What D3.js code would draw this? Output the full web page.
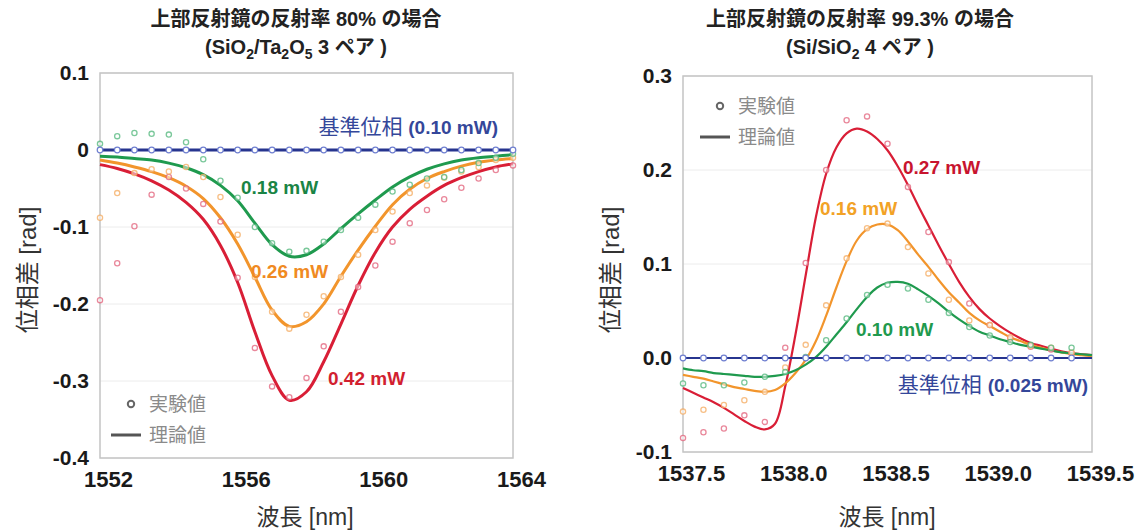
<!DOCTYPE html>
<html>
<head>
<meta charset="utf-8">
<script src="https://cdn.jsdelivr.net/npm/d3@7"></script>
<style>
body { margin: 0; background: #fff; }
text { font-family: "Liberation Sans", Arial, "Noto Sans CJK JP", sans-serif; }
</style>
</head>
<body>
<svg id="chart" width="1145" height="531"></svg>
<script>
// ---- left panel data (SiO2/Ta2O5 3 pairs) ----
var leftX = [1552, 1552.5, 1553, 1553.5, 1554, 1554.5, 1555, 1555.5, 1556, 1556.5, 1557, 1557.5,
    1558, 1558.5, 1559, 1559.5, 1560, 1560.5, 1561, 1561.5, 1562, 1562.5, 1563, 1563.5, 1564];
var leftTheoryGreen = [-0.008, -0.009, -0.011, -0.013, -0.017, -0.023, -0.032, -0.046, -0.066, -0.095, -0.123, -0.138,
    -0.136, -0.122, -0.102, -0.083, -0.065, -0.048, -0.035, -0.025, -0.018, -0.013, -0.010, -0.008, -0.006];
var leftTheoryOrange = [-0.013, -0.017, -0.022, -0.028, -0.036, -0.047, -0.063, -0.088, -0.122, -0.165, -0.208, -0.229,
    -0.223, -0.200, -0.164, -0.130, -0.099, -0.071, -0.051, -0.037, -0.028, -0.021, -0.016, -0.013, -0.011];
var leftTheoryRed = [-0.019, -0.024, -0.031, -0.040, -0.052, -0.068, -0.090, -0.124, -0.172, -0.236, -0.293, -0.325,
    -0.314, -0.275, -0.226, -0.176, -0.133, -0.100, -0.077, -0.060, -0.046, -0.036, -0.028, -0.022, -0.018];
var leftExpGreen = [0.008, 0.018, 0.022, 0.021, 0.020, 0.010, -0.012, -0.040, -0.062, -0.100, -0.121, -0.132,
    -0.131, -0.119, -0.104, -0.088, -0.071, -0.054, -0.045, -0.037, -0.035, -0.026, -0.017, -0.010, -0.005];
var leftExpOrange = [-0.088, -0.056, -0.030, -0.025, -0.028, -0.022, -0.035, -0.061, -0.110, -0.165, -0.210, -0.232,
    -0.214, -0.190, -0.165, -0.136, -0.104, -0.080, -0.056, -0.046, -0.036, -0.028, -0.022, -0.013, -0.010];
var leftExpRed = [-0.195, -0.147, -0.099, -0.058, -0.035, -0.050, -0.070, -0.093, -0.166, -0.257, -0.307, -0.321,
    -0.296, -0.255, -0.210, -0.178, -0.150, -0.119, -0.095, -0.078, -0.064, -0.049, -0.037, -0.026, -0.020];
var leftYTicks = [-0.4, -0.3, -0.2, -0.1, 0, 0.1];
var leftXTicks = [1552, 1556, 1560, 1564];

// ---- right panel data (Si/SiO2 4 pairs) ----
var rightTheoryX = [1537.5, 1537.55, 1537.6, 1537.65, 1537.7, 1537.75, 1537.8, 1537.85, 1537.9, 1537.95,
    1538.0, 1538.05, 1538.1, 1538.15, 1538.2, 1538.25, 1538.3, 1538.35, 1538.4, 1538.45,
    1538.5, 1538.55, 1538.6, 1538.65, 1538.7, 1538.75, 1538.8, 1538.85, 1538.9, 1538.95,
    1539.0, 1539.05, 1539.1, 1539.15, 1539.2, 1539.25, 1539.3, 1539.35, 1539.4, 1539.45, 1539.5];
var rightTheoryRed = [-0.032, -0.037, -0.042, -0.047, -0.053, -0.060, -0.067, -0.073, -0.076, -0.070,
    -0.030, 0.025, 0.088, 0.150, 0.196, 0.224, 0.239, 0.244, 0.241, 0.233,
    0.221, 0.204, 0.184, 0.162, 0.141, 0.120, 0.100, 0.081, 0.065, 0.052,
    0.042, 0.034, 0.027, 0.021, 0.016, 0.013, 0.010, 0.007, 0.005, 0.004, 0.003];
var rightTheoryOrange = [-0.018, -0.020, -0.022, -0.025, -0.028, -0.031, -0.033, -0.035, -0.036, -0.034,
    -0.027, -0.016, -0.002, 0.018, 0.045, 0.075, 0.103, 0.125, 0.137, 0.142,
    0.142, 0.136, 0.124, 0.110, 0.097, 0.083, 0.070, 0.059, 0.048, 0.040,
    0.034, 0.028, 0.022, 0.018, 0.014, 0.011, 0.008, 0.006, 0.004, 0.003, 0.002];
var rightTheoryGreen = [-0.011, -0.013, -0.014, -0.016, -0.017, -0.018, -0.019, -0.020, -0.020, -0.019,
    -0.017, -0.013, -0.007, 0.001, 0.012, 0.025, 0.038, 0.052, 0.065, 0.075,
    0.080, 0.081, 0.079, 0.073, 0.066, 0.058, 0.049, 0.041, 0.034, 0.028,
    0.024, 0.020, 0.017, 0.014, 0.012, 0.010, 0.008, 0.006, 0.005, 0.004, 0.003];
var rightExpX = [1537.5, 1537.6, 1537.7, 1537.8, 1537.9, 1538.0, 1538.1, 1538.2, 1538.3, 1538.4,
    1538.5, 1538.6, 1538.7, 1538.8, 1538.9, 1539.0, 1539.1, 1539.2, 1539.3, 1539.4];
var rightExpRed = [-0.085, -0.079, -0.075, -0.061, -0.068, 0.011, 0.101, 0.200, 0.253, 0.257,
    0.228, 0.182, 0.134, 0.102, 0.058, 0.035, 0.021, 0.012, 0.009, 0.005];
var rightExpOrange = [-0.057, -0.055, -0.050, -0.045, -0.036, -0.010, 0.014, 0.056, 0.106, 0.138,
    0.143, 0.118, 0.090, 0.062, 0.040, 0.035, 0.022, 0.013, 0.011, 0.006];
var rightExpGreen = [-0.027, -0.029, -0.029, -0.026, -0.020, -0.015, 0.001, 0.019, 0.042, 0.067,
    0.078, 0.074, 0.062, 0.048, 0.033, 0.024, 0.017, 0.014, 0.011, 0.011];
var rightYTicks = [-0.1, 0, 0.1, 0.2, 0.3];
var rightXTicks = [1537.5, 1538.0, 1538.5, 1539.0, 1539.5];

var colors = {
    blue: "#27358f", blueMark: "#6f7fd0",
    green: "#1f9a4e", greenMark: "#4fb57a",
    orange: "#f2952c", orangeMark: "#f4aa5e",
    red: "#d91e36", redMark: "#e2607a"
};

var svg = d3.select("#chart");

function drawPanel(p) {
    var g = svg.append("g");
    var x = d3.scaleLinear().domain(p.xDomain).range(p.xRange);
    var y = d3.scaleLinear().domain(p.yDomain).range(p.yRange);

    // faint grid lines
    g.selectAll(".grid").data(p.yTicks).enter().append("line")
        .attr("x1", p.xRange[0]).attr("x2", p.xRange[1])
        .attr("y1", function (d) { return y(d); })
        .attr("y2", function (d) { return y(d); })
        .attr("stroke", "#ececec").attr("stroke-width", 1);

    // frame
    g.append("rect")
        .attr("x", p.xRange[0]).attr("y", p.yRange[1])
        .attr("width", p.xRange[1] - p.xRange[0])
        .attr("height", p.yRange[0] - p.yRange[1])
        .attr("fill", "none").attr("stroke", "#c4c4c4").attr("stroke-width", 1.5);

    // y axis labels
    var ya = g.append("g").attr("transform", "translate(" + (p.xRange[0] - 8) + ",0)")
        .call(d3.axisLeft(y).tickValues(p.yTicks).tickSize(0).tickFormat(p.yFormat));
    ya.select(".domain").remove();
    ya.selectAll("text").attr("font-size", 21).attr("font-weight", "bold").attr("fill", "#1a1a1a")
        .attr("font-family", "Liberation Sans, Arial, sans-serif");

    // x axis labels
    var xa = g.append("g").attr("transform", "translate(0," + (p.yRange[0] + 10) + ")")
        .call(d3.axisBottom(x).tickValues(p.xTicks).tickSize(0).tickFormat(p.xFormat));
    xa.select(".domain").remove();
    xa.selectAll("text").attr("font-size", 22).attr("font-weight", "bold").attr("fill", "#1a1a1a")
        .attr("dx", 8).attr("font-family", "Liberation Sans, Arial, sans-serif");

    // axis titles
    g.append("text").attr("x", p.xTitleX).attr("y", 525).attr("text-anchor", "middle")
        .attr("font-size", 23).attr("fill", "#333").text("波長 [nm]");
    g.append("text").attr("transform", "translate(" + p.yTitleX + ",270) rotate(-90)")
        .attr("text-anchor", "middle").attr("font-size", 24).attr("fill", "#333").text("位相差 [rad]");

    // theory lines
    var line = d3.line().curve(d3.curveCatmullRom.alpha(0.5))
        .x(function (d) { return x(d[0]); })
        .y(function (d) { return y(d[1]); });
    p.theory.forEach(function (s) {
        g.append("path")
            .datum(d3.zip(p.theoryX, s.values))
            .attr("d", line)
            .attr("fill", "none").attr("stroke", s.color).attr("stroke-width", p.lineW);
    });

    // experimental points
    p.exp.forEach(function (s) {
        g.selectAll(null).data(d3.zip(p.expX, s.values)).enter().append("circle")
            .attr("cx", function (d) { return x(d[0]); })
            .attr("cy", function (d) { return y(d[1]); })
            .attr("r", 2.6)
            .attr("fill", "#fff").attr("fill-opacity", 0.5)
            .attr("stroke", s.color).attr("stroke-opacity", 0.75).attr("stroke-width", 1.3);
    });

    // reference phase (blue) line with markers
    g.append("line")
        .attr("x1", p.xRange[0]).attr("x2", p.xRange[1])
        .attr("y1", y(0)).attr("y2", y(0))
        .attr("stroke", colors.blue).attr("stroke-width", p.lineW);
    g.selectAll(null).data(p.blueX).enter().append("circle")
        .attr("cx", function (d) { return x(d); })
        .attr("cy", y(0))
        .attr("r", 2.8)
        .attr("fill", "#fff").attr("stroke", colors.blueMark).attr("stroke-width", 1.2);

    // legend
    g.append("circle").attr("cx", p.legX + 20).attr("cy", p.legY).attr("r", 3.2)
        .attr("fill", "none").attr("stroke", "#666").attr("stroke-width", 2);
    g.append("text").attr("x", p.legX + 38).attr("y", p.legY + 7)
        .attr("font-size", 19).attr("fill", "#8a8a8a").text("実験値");
    g.append("line").attr("x1", p.legX).attr("x2", p.legX + 30)
        .attr("y1", p.legY + 31).attr("y2", p.legY + 31)
        .attr("stroke", "#555").attr("stroke-width", 3);
    g.append("text").attr("x", p.legX + 38).attr("y", p.legY + 38)
        .attr("font-size", 19).attr("fill", "#8a8a8a").text("理論値");

    // series labels
    p.labels.forEach(function (l) {
        var t = g.append("text").attr("x", l.x).attr("y", l.y)
            .attr("font-size", 19).attr("font-weight", "bold").attr("fill", l.color)
            .attr("text-anchor", l.anchor || "start");
        if (l.pre) {
            t.append("tspan").attr("font-weight", "normal").attr("font-size", 21).text(l.pre + " ");
        }
        t.append("tspan").text(l.text);
    });
}

function fmt1(v) { return v === 0 ? "0" : v.toFixed(1); }

drawPanel({
    xDomain: [1552, 1564], xRange: [100, 513],
    yDomain: [-0.4, 0.1], yRange: [458, 73],
    yTicks: leftYTicks, xTicks: leftXTicks,
    yFormat: fmt1, xFormat: function (d) { return String(d); },
    xTitleX: 305, yTitleX: 36,
    lineW: 3,
    theoryX: leftX,
    theory: [
        { color: colors.red, values: leftTheoryRed },
        { color: colors.orange, values: leftTheoryOrange },
        { color: colors.green, values: leftTheoryGreen }
    ],
    expX: leftX,
    exp: [
        { color: colors.redMark, values: leftExpRed },
        { color: colors.orangeMark, values: leftExpOrange },
        { color: colors.greenMark, values: leftExpGreen }
    ],
    blueX: leftX,
    legX: 111, legY: 404,
    labels: [
        { x: 498, y: 134, color: "#34479a", anchor: "end", pre: "基準位相", text: "(0.10 mW)" },
        { x: 241, y: 194, color: "#1a8445", text: "0.18 mW" },
        { x: 251, y: 278, color: "#f08a22", text: "0.26 mW" },
        { x: 328, y: 385, color: "#d21f30", text: "0.42 mW" }
    ]
});

drawPanel({
    xDomain: [1537.5, 1539.5], xRange: [683, 1092],
    yDomain: [-0.1, 0.3], yRange: [452, 76],
    yTicks: rightYTicks, xTicks: rightXTicks,
    yFormat: function (d) { return d.toFixed(1); }, xFormat: function (d) { return d.toFixed(1); },
    xTitleX: 887, yTitleX: 619,
    lineW: 2.2,
    theoryX: rightTheoryX,
    theory: [
        { color: colors.red, values: rightTheoryRed },
        { color: colors.orange, values: rightTheoryOrange },
        { color: colors.green, values: rightTheoryGreen }
    ],
    expX: rightExpX,
    exp: [
        { color: colors.redMark, values: rightExpRed },
        { color: colors.orangeMark, values: rightExpOrange },
        { color: colors.greenMark, values: rightExpGreen }
    ],
    blueX: rightExpX,
    legX: 700, legY: 106,
    labels: [
        { x: 903, y: 174, color: "#c8142e", text: "0.27 mW" },
        { x: 820, y: 215, color: "#f2a226", text: "0.16 mW" },
        { x: 856, y: 336, color: "#1f9a4e", text: "0.10 mW" },
        { x: 1088, y: 392, color: "#34479a", anchor: "end", pre: "基準位相", text: "(0.025 mW)" }
    ]
});

// titles
function title(cx, line1, parts) {
    svg.append("text").attr("x", cx).attr("y", 26).attr("text-anchor", "middle")
        .attr("font-size", 20).attr("font-weight", "bold").attr("fill", "#222").text(line1);
    var t = svg.append("text").attr("x", cx).attr("y", 54).attr("text-anchor", "middle")
        .attr("font-size", 20).attr("font-weight", "bold").attr("fill", "#222");
    parts.forEach(function (p) {
        var s = t.append("tspan").text(p[0]);
        if (p[1]) s.attr("font-size", 14).attr("dy", 5);
        if (p[2]) s.attr("dy", -5);
    });
}
title(296, "上部反射鏡の反射率 80% の場合",
    [["(SiO"], ["2", true], ["/Ta", false, true], ["2", true], ["O", false, true], ["5", true], [" 3 ペア )", false, true]]);
title(860, "上部反射鏡の反射率 99.3% の場合",
    [["(Si/SiO"], ["2", true], [" 4 ペア )", false, true]]);
</script>
</body>
</html>
